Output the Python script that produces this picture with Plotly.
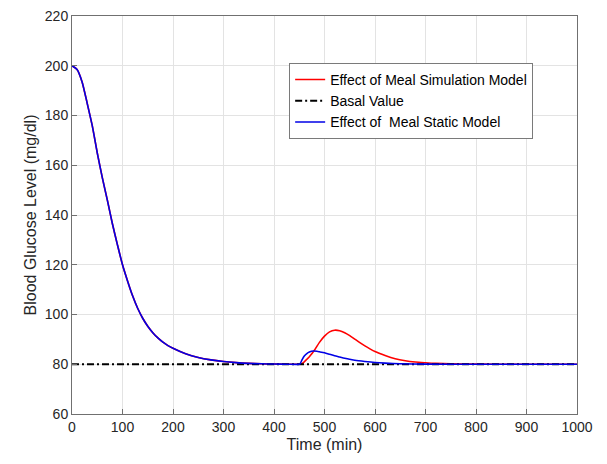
import plotly.graph_objects as go

# glucose decay from the initial level (shared by both models before the meal)
t_decay = [0, 10, 20, 30, 40, 50, 60, 70, 80, 90, 100, 110, 120, 130, 140, 150,
           160, 170, 180, 190, 200, 225, 250, 275, 300, 325, 350, 375, 400, 425, 450]
g_decay = [200, 198.5, 193.5, 185, 176, 165, 155, 146, 136.5, 128, 120, 113.5, 107.5,
           102.5, 98.5, 95.3, 92.7, 90.6, 88.9, 87.5, 86.4, 84.2, 82.7, 81.75, 81.1,
           80.65, 80.35, 80.18, 80.08, 80.03, 80]

# meal response, simulation model
t_sim = [455, 460, 465, 470, 480, 490, 500, 510, 520, 530, 540, 550, 560, 570, 580,
         590, 600, 620, 640, 660, 680, 700, 720, 750, 800, 900, 1000]
g_sim = [80.2, 81, 82, 83, 85.6, 88.8, 91.3, 93, 93.7, 93.5, 92.7, 91.5, 90.1, 88.7,
         87.4, 86.2, 85.1, 83.5, 82.2, 81.4, 80.9, 80.6, 80.35, 80.15, 80.05, 80, 80]

# meal response, static model
t_static = [452, 456, 460, 465, 470, 478, 485, 490, 500, 510, 520, 530, 540, 550, 560,
            580, 600, 620, 650, 700, 800, 900, 1000]
g_static = [80.3, 82, 83.3, 84.3, 84.9, 85.3, 85.2, 85.0, 84.6, 84.0, 83.4, 82.9, 82.4,
            82.0, 81.6, 81.1, 80.7, 80.45, 80.2, 80.05, 80, 80, 80]

t_basal = [0, 1000]
g_basal = [80, 80]

font = "Liberation Sans, Arial, sans-serif"

fig = go.Figure()
fig.add_trace(go.Scatter(
    x=t_decay + t_sim, y=g_decay + g_sim, mode="lines",
    line=dict(color="#ff0000", width=1.6, shape="spline", smoothing=0.6),
    name="Effect of Meal Simulation Model"))
fig.add_trace(go.Scatter(
    x=t_basal, y=g_basal, mode="lines",
    line=dict(color="black", width=2.2, dash="7px,3px,2px,3px"),
    name="Basal Value"))
fig.add_trace(go.Scatter(
    x=t_decay + t_static, y=g_decay + g_static, mode="lines",
    line=dict(color="#0000e6", width=1.6, shape="spline", smoothing=0.6),
    name="Effect of \u00a0Meal Static Model"))

axis_style = dict(
    showline=True, linecolor="#707070", linewidth=1, mirror=True,
    ticks="inside", ticklen=5, tickcolor="#707070",
    showgrid=True, gridcolor="#e3e3e3", gridwidth=1,
    zeroline=False, tickfont=dict(size=14, color="#262626"),
    ticklabeloverflow="allow", automargin=False,
)

# the page body adds an 8px margin, so the figure is 8px smaller than the window
fig.update_layout(
    width=599, height=456,
    margin=dict(l=64, r=30, t=8, b=50),
    paper_bgcolor="white", plot_bgcolor="white",
    font=dict(family=font, color="#262626"),
    xaxis=dict(range=[0, 1000], dtick=100,
               title=dict(text="Time (min)", font=dict(size=16), standoff=5),
               **axis_style),
    yaxis=dict(range=[60, 220], dtick=20,
               title=dict(text="Blood Glucose Level (mg/dl)", font=dict(size=16), standoff=4),
               **axis_style),
    legend=dict(x=0.43, y=0.882, xanchor="left", yanchor="top",
                bgcolor="white", bordercolor="#7a7a7a", borderwidth=1,
                font=dict(size=14, color="#000000"),
                tracegroupgap=0, itemwidth=30),
    showlegend=True,
)

fig.write_html("out.html")
